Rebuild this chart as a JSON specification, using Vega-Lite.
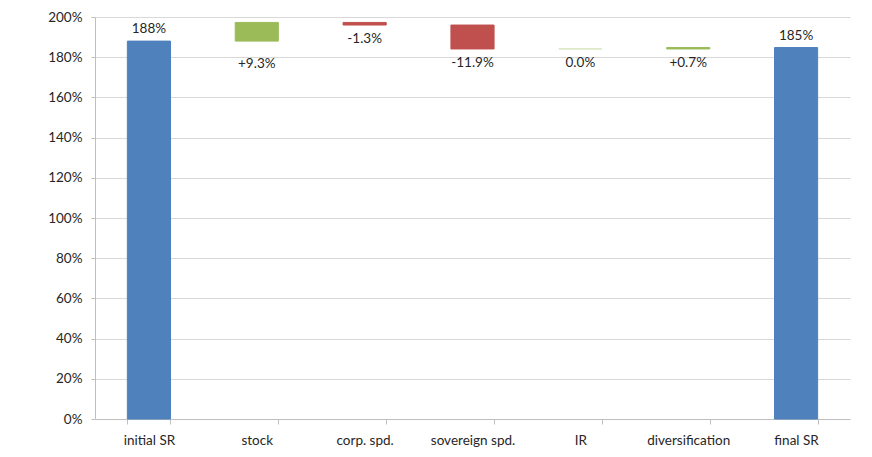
{
  "$schema": "https://vega.github.io/schema/vega-lite/v6.json",
  "width": 755,
  "height": 402,
  "autosize": {"type": "none"},
  "padding": {"left": 95, "top": 17, "right": 22, "bottom": 38},
  "background": "white",
  "data": {
    "values": [
      {"step": "initial SR", "low": 0, "high": 1.88, "label": "188%", "kind": "total"},
      {"step": "stock", "low": 1.88, "high": 1.973, "label": "+9.3%", "kind": "up"},
      {"step": "corp. spd.", "low": 1.96, "high": 1.973, "label": "-1.3%", "kind": "down"},
      {"step": "sovereign spd.", "low": 1.841, "high": 1.96, "label": "-11.9%", "kind": "down"},
      {"step": "IR", "low": 1.841, "high": 1.841, "label": "0.0%", "kind": "flat"},
      {"step": "diversification", "low": 1.841, "high": 1.848, "label": "+0.7%", "kind": "up"},
      {"step": "final SR", "low": 0, "high": 1.848, "label": "185%", "kind": "total"}
    ]
  },
  "encoding": {
    "x": {
      "field": "step",
      "type": "nominal",
      "sort": null,
      "scale": {"paddingInner": 0.6, "paddingOuter": 0.3},
      "axis": {
        "title": null,
        "labelAngle": 0,
        "labelFont": "Lato",
        "labelFontSize": 13.5,
        "labelColor": "#262626",
        "labelPadding": 9,
        "tickBand": "extent",
        "tickSize": 5,
        "tickColor": "#bfbfbf",
        "domainColor": "#bfbfbf",
        "grid": false
      }
    }
  },
  "layer": [
    {
      "mark": {"type": "bar", "strokeWidth": 1},
      "encoding": {
        "y": {
          "field": "low",
          "type": "quantitative",
          "scale": {"domain": [0, 2], "nice": false},
          "axis": {
            "title": null,
            "format": ".0%",
            "values": [0, 0.2, 0.4, 0.6, 0.8, 1, 1.2, 1.4, 1.6, 1.8, 2],
            "labelFont": "Lato",
            "labelFontSize": 13.5,
            "labelColor": "#262626",
            "labelPadding": 9,
            "tickSize": 4,
            "tickColor": "#bfbfbf",
            "domainColor": "#bfbfbf",
            "gridColor": "#d9d9d9",
            "gridWidth": 1.2
          }
        },
        "y2": {"field": "high"},
        "color": {
          "field": "kind",
          "type": "nominal",
          "scale": {"domain": ["total", "up", "down", "flat"], "range": ["#4f81bd", "#9bbb59", "#c0504d", "#d7e4bd"]},
          "legend": null
        },
        "stroke": {
          "field": "kind",
          "type": "nominal",
          "scale": {"domain": ["total", "up", "down", "flat"], "range": ["#4f81bd", "#9bbb59", "#c0504d", "#d7e4bd"]},
          "legend": null
        }
      }
    },
    {
      "transform": [{"filter": "datum.kind == 'total'"}],
      "mark": {"type": "text", "baseline": "middle", "dy": -12, "font": "Lato", "fontSize": 13.5, "color": "#262626"},
      "encoding": {
        "y": {"field": "high", "type": "quantitative"},
        "text": {"field": "label"}
      }
    },
    {
      "transform": [{"filter": "datum.kind != 'total' && datum.step != 'stock'"}],
      "mark": {"type": "text", "baseline": "middle", "dy": 14, "font": "Lato", "fontSize": 13.5, "color": "#262626"},
      "encoding": {
        "y": {"field": "low", "type": "quantitative"},
        "text": {"field": "label"}
      }
    },
    {
      "transform": [{"filter": "datum.step == 'stock'"}],
      "mark": {"type": "text", "baseline": "middle", "dy": 23, "font": "Lato", "fontSize": 13.5, "color": "#262626"},
      "encoding": {
        "y": {"field": "low", "type": "quantitative"},
        "text": {"field": "label"}
      }
    }
  ],
  "config": {"view": {"stroke": null}}
}
